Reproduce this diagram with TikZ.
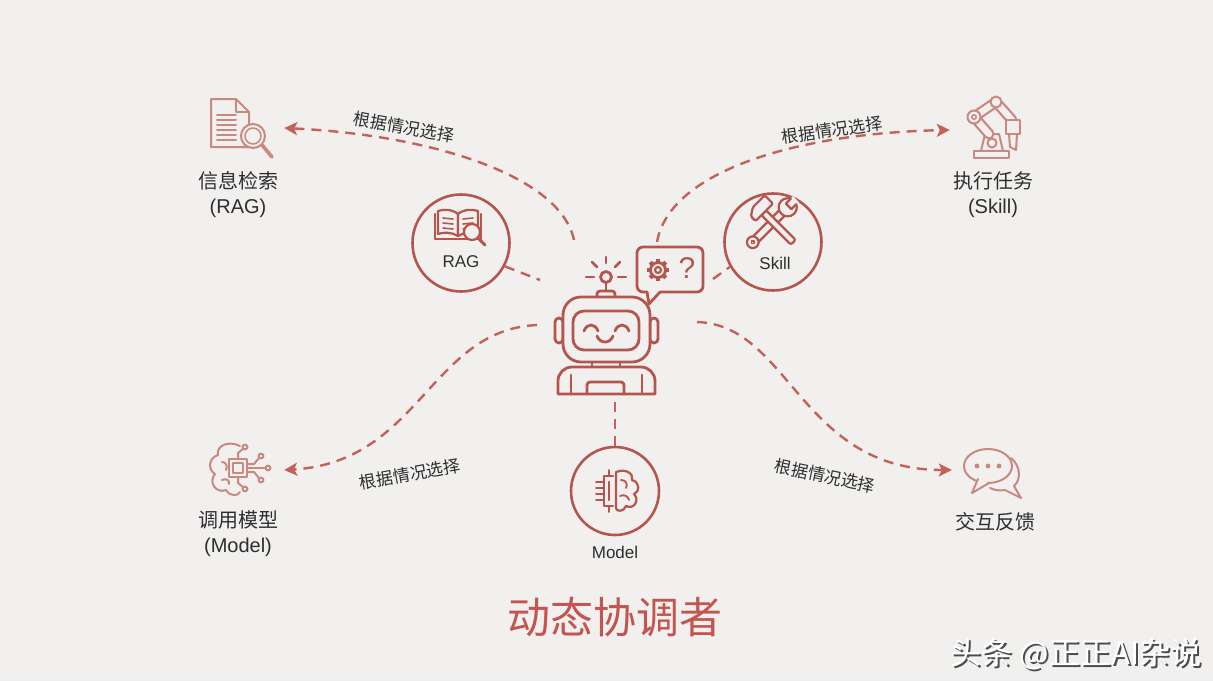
\documentclass[tikz,border=0pt]{standalone}
\usepackage{fontspec}
\setmainfont{Liberation Sans}
\newfontfamily\cjk{Noto Sans CJK SC}
\usetikzlibrary{arrows.meta}

\definecolor{paper}{HTML}{F1F0EE}
\definecolor{brick}{HTML}{B4554E}
\definecolor{rose}{HTML}{C98880}
\definecolor{dashred}{HTML}{C5605A}
\definecolor{ink}{HTML}{2E2E2E}
\definecolor{titlered}{HTML}{C35550}

\tikzset{
  flow/.style={dashred, line width=2.4pt, dash pattern=on 10pt off 7pt},
  pick/.style={flow, -{Stealth[length=13pt,width=13pt,inset=3pt]}},
  hub/.style={circle, draw=brick, line width=2.6pt, fill=paper, minimum size=97pt, inner sep=0pt},
  spot/.style={minimum size=92pt, inner sep=0pt},
  bot/.style={brick, line width=2.8pt, line join=round, line cap=round},
  icon/.style={rose, line width=2pt, line join=round, line cap=round},
  hubicon/.style={brick, line width=2.2pt, line join=round, line cap=round},
  iconname/.style={ink, align=center, font=\fontsize{20}{25}\selectfont},
  choice/.style={ink, font=\cjk\fontsize{17}{20}\selectfont},
  hubtext/.style={ink, font=\fontsize{17}{20}\selectfont},
}

\begin{document}
\begin{tikzpicture}[x=1pt, y=-1pt]
\fill[paper] (0,0) rectangle (1213,681);
\useasboundingbox (0,0) rectangle (1213,681);

\node[spot] (docicon) at (238,128) {};
\node[spot, minimum size=86pt] (armicon) at (993,130) {};
\node[spot] (brainicon) at (238,470) {};
\node[spot, minimum size=86pt] (chaticon) at (995,470) {};
\node[minimum width=104pt, minimum height=140pt] (robot) at (606,330) {};

\coordinate (tl) at (574,240);
\coordinate (tr) at (657,242);
\coordinate (bl) at (537,325);
\coordinate (br) at (697,322);
\coordinate (ragend) at (540,280);
\coordinate (skillend) at (713,279);
\coordinate (mtop) at (615,402);

\draw[pick] (tl) .. controls (560,175) and (430,135) .. (docicon.east);
\draw[pick] (tr) .. controls (670,170) and (800,133) .. (armicon.west);
\draw[pick] (bl) .. controls (430,330) and (420,462) .. (brainicon.east);
\draw[pick] (br) .. controls (790,325) and (800,470) .. (chaticon.west);

\node[hub] (rag) at (461,243) {};
\node[hub] (skill) at (773,242) {};
\node[hub, minimum size=88pt] (model) at (615,491) {};

\draw[flow] (rag.-28) -- (ragend);
\draw[flow] (skillend) -- (skill.-150);
\draw[flow] (mtop) -- (model.north);

\node[choice, rotate=-10] (choicetl) at (404,127) {根据情况选择};
\node[choice, rotate=8] (choicetr) at (832,130) {根据情况选择};
\node[choice, rotate=10] (choicebl) at (410,474) {根据情况选择};
\node[choice, rotate=-12] (choicebr) at (825,476) {根据情况选择};

% robot
\draw[bot] (606,257) -- (606,263);
\draw[bot] (586,277) -- (594,277);
\draw[bot] (618,277) -- (626,277);
\draw[bot] (592,262) -- (597,267);
\draw[bot] (620,262) -- (615,267);
\draw[bot] (606,277) circle[radius=5.5];
\draw[bot] (606,283) -- (606,291);
\draw[bot, rounded corners=3pt] (597,297) -- (597,291) -- (615,291) -- (615,297);
\draw[bot, rounded corners=4pt] (555,318) rectangle (563,343);
\draw[bot, rounded corners=4pt] (650,318) rectangle (658,343);
\draw[bot, fill=paper, rounded corners=18pt] (563,297) rectangle (650,362);
\draw[bot, rounded corners=11pt] (573,311) rectangle (639,350);
\draw[bot] (584,331) .. controls (587,323) and (595,323) .. (598,331);
\draw[bot] (615,331) .. controls (618,323) and (626,323) .. (629,331);
\draw[bot] (597,336) .. controls (600,344) and (610,344) .. (613,336);
\draw[bot] (592,362) rectangle (620,367);
\draw[bot] (558,394) [rounded corners=14pt] -- (558,367) -- (655,367) [sharp corners] -- (655,394) -- cycle;
\draw[bot] (571,375) -- (571,394);
\draw[bot] (642,375) -- (642,394);
\draw[bot, rounded corners=3pt] (587,394) -- (587,382) -- (624,382) -- (624,394);

% speech bubble
\draw[bot, rounded corners=6pt] (660,292) -- (703,292) -- (703,247) -- (637,247) -- (637,292) -- (647,292);
\draw[bot] (647,292) -- (649,304) -- (660,292);
\draw[bot] (658,270) circle[radius=7.5];
\draw[bot, line width=2.2pt] (658,270) circle[radius=3];
\foreach \a in {0,45,...,315}
  \draw[brick, line width=4pt] (658,270) ++(\a:7.5) -- ++(\a:3.5);
\node[brick, font=\fontsize{30}{34}\selectfont] (ask) at (687,268) {?};

% book in RAG
\draw[hubicon] (435,214) -- (435,239) -- (481,239) -- (481,214);
\draw[hubicon, fill=paper] (458,214) .. controls (452,209) and (443,209) .. (438,211) -- (438,234) .. controls (443,232) and (452,232) .. (458,236) -- cycle;
\draw[hubicon, fill=paper] (458,214) .. controls (464,209) and (473,209) .. (478,211) -- (478,234) .. controls (473,232) and (464,232) .. (458,236) -- cycle;
\foreach \y in {218,223,228} {
  \draw[hubicon, line width=1.6pt] (443,\y) -- (453,\y+1);
  \draw[hubicon, line width=1.6pt] (463,\y+1) -- (473,\y);
}
\draw[hubicon, fill=paper] (472,232) circle[radius=8];
\draw[hubicon, line width=3pt] (478,238) -- (485,245);
\node[hubtext] (ragtext) at (461,262) {RAG};

% tools in Skill
\begin{scope}[shift={(773,222)}, rotate=45, scale=1.3]
  \draw[hubicon, fill=paper, rounded corners=2pt] (-20,-3) rectangle (11,3);
  \draw[hubicon, fill=paper] (-22,0) circle[radius=4.5];
  \draw[hubicon, line width=1.6pt] (-22,0) circle[radius=1.3];
  \draw[hubicon, fill=paper] (16,0) circle[radius=7];
  \fill[paper] (17,-3.2) rectangle (25,3.2);
  \draw[hubicon] (22.3,-3) -- (17,-3) -- (17,3) -- (22.3,3);
\end{scope}
\begin{scope}[shift={(773,222)}, rotate=-45, scale=1.3]
  \draw[hubicon, fill=paper, rounded corners=2pt] (-10,-2.6) rectangle (22,2.6);
  \draw[hubicon, fill=paper, rounded corners=1.5pt] (-19,-10) -- (-10,-10) -- (-10,9) -- (-15,9) -- (-19,3) -- cycle;
\end{scope}
\node[hubtext] (skilltext) at (775,263) {Skill};

% chip and brain in Model
\draw[hubicon] (613,476) -- (604,476) -- (604,506) -- (613,506);
\draw[hubicon] (609,482) -- (609,500);
\foreach \y in {482,488,494,500}
  \draw[hubicon, line width=1.8pt] (596,\y) -- (604,\y);
\draw[hubicon, line width=1.8pt] (609,470) -- (609,476);
\draw[hubicon, line width=1.8pt] (609,506) -- (609,512);
\draw[hubicon] (616,472) .. controls (626,468) and (634,474) .. (632,480) .. controls (640,482) and (640,492) .. (634,494) .. controls (640,500) and (634,510) .. (626,506) .. controls (624,512) and (616,512) .. (616,508) -- cycle;
\draw[hubicon, line width=1.8pt] (621,480) .. controls (626,480) and (628,484) .. (626,488);
\draw[hubicon, line width=1.8pt] (620,496) .. controls (624,494) and (628,496) .. (629,500);
\node[hubtext] (modeltext) at (615,552) {Model};

% document search
\draw[icon] (211,99) -- (236,99) -- (249,112) -- (249,147) -- (211,147) -- cycle;
\draw[icon] (236,99) -- (236,112) -- (249,112);
\foreach \y in {115,120,125,130,135,140}
  \draw[icon] (217,\y) -- (236,\y);
\draw[icon, fill=paper] (253,136) circle[radius=12];
\draw[icon, line width=1.5pt] (253,136) circle[radius=8];
\draw[icon, line width=3.6pt] (262,145) -- (272,157);
\node[iconname] (docname) at (238,195) {{\cjk 信息检索}\\(RAG)};

% robot arm
\draw[icon] (974,151) rectangle (1009,158);
\draw[icon] (981,151) -- (985,134) -- (999,134) -- (1003,151);
\draw[icon] (992,143) circle[radius=4.5];
\draw[rose, line width=11pt, line cap=round, line join=round] (989,134) -- (974,117) -- (996,102) -- (1012,120);
\draw[paper, line width=6.5pt, line cap=round, line join=round] (989,134) -- (974,117) -- (996,102) -- (1012,120);
\draw[icon, fill=paper] (974,117) circle[radius=6.5];
\draw[icon, line width=1.5pt] (974,117) circle[radius=2.2];
\draw[icon, fill=paper] (996,102) circle[radius=5.5];
\draw[icon, fill=paper] (1006,120) rectangle (1020,134);
\draw[icon] (1009,134) -- (1010,147) -- (1016,150) -- (1017,134);
\node[iconname] (armname) at (993,195) {{\cjk 执行任务}\\(Skill)};

% brain chip
\draw[icon] (240,446) .. controls (228,440) and (216,446) .. (218,455) .. controls (208,458) and (208,470) .. (215,474) .. controls (208,482) and (216,494) .. (226,490) .. controls (230,497) and (238,496) .. (240,492);
\draw[icon] (222,462) .. controls (226,462) and (228,466) .. (226,470);
\draw[icon] (222,480) .. controls (226,478) and (230,480) .. (229,484);
\draw[icon, fill=paper] (229,459) rectangle (247,477);
\draw[icon, line width=1.5pt] (233,463) rectangle (243,473);
\draw[icon] (247,464) -- (254,464) -- (259,458);
\draw[icon] (247,468) -- (265,468);
\draw[icon] (247,472) -- (254,472) -- (259,478);
\draw[icon] (238,459) -- (238,453) -- (243,449);
\draw[icon] (238,477) -- (238,483) -- (243,487);
\draw[icon] (261,456) circle[radius=2.4];
\draw[icon] (268,468) circle[radius=2.4];
\draw[icon] (261,480) circle[radius=2.4];
\draw[icon] (245,447) circle[radius=2.4];
\draw[icon] (245,489) circle[radius=2.4];
\node[iconname] (brainname) at (238,534) {{\cjk 调用模型}\\(Model)};

% chat bubbles
\draw[icon] (1011,458) .. controls (1021,466) and (1021,480) .. (1014,486) -- (1021,498) -- (1005,490) .. controls (1000,491) and (994,490) .. (990,488);
\draw[icon, fill=paper] (988,466) ellipse[x radius=24, y radius=17];
\draw[icon, fill=paper] (978,479) -- (972,493) -- (989,483);
\foreach \x in {977,988,999}
  \fill[rose] (\x,466) circle[radius=2.4];
\node[iconname, font=\cjk\fontsize{20}{25}\selectfont] (chatname) at (995,522) {交互反馈};

\node[titlered, font=\cjk\fontsize{43}{50}\selectfont] (title) at (615,617) {动态协调者};

\node[black!70, font=\cjk\fontsize{31}{36}\selectfont] (markshadow) at (1078,656) {头条 @正正AI杂说};
\node[white, font=\cjk\fontsize{31}{36}\selectfont] (mark) at (1076,654) {头条 @正正AI杂说};
\end{tikzpicture}
\end{document}
